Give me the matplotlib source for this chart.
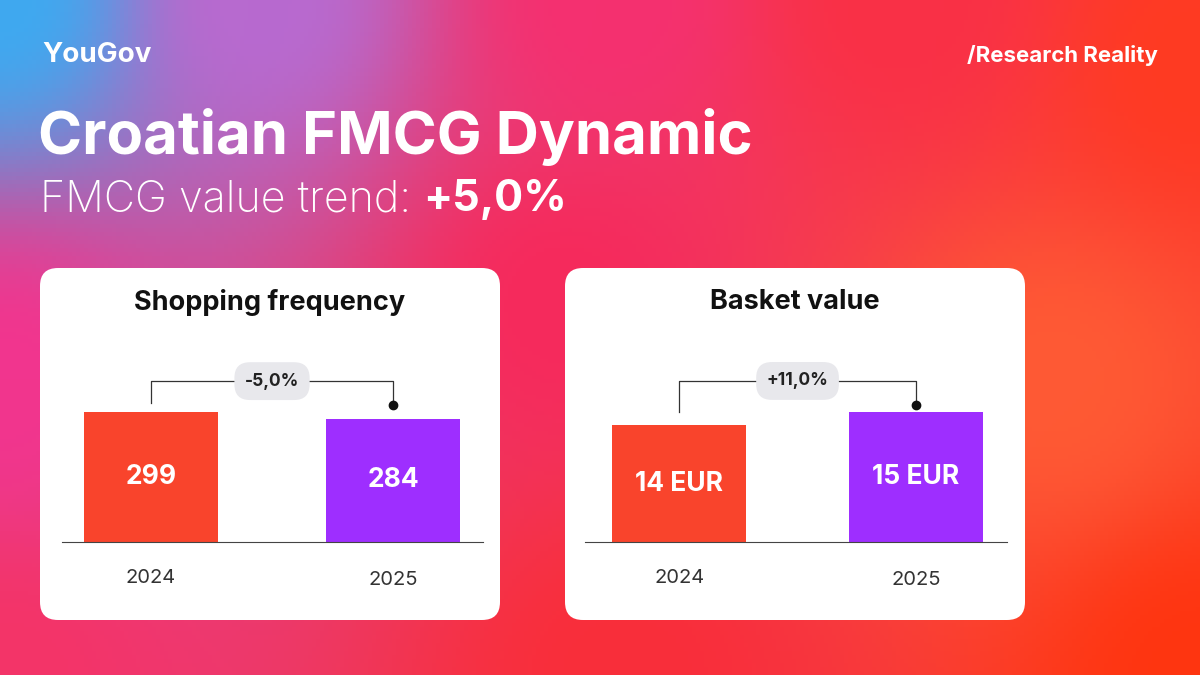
import numpy as np
import matplotlib
matplotlib.use("Agg")
import matplotlib.pyplot as plt
from matplotlib.patches import FancyBboxPatch

plt.rcParams['font.family'] = ['Inter', 'DejaVu Sans']

# ---- data ----
years = ["2024", "2025"]
freq_values = [299, 284]
freq_labels = ["299", "284"]
freq_change = "-5,0%"
basket_values = [13.5, 15.0]
basket_labels = ["14 EUR", "15 EUR"]
basket_change = "+11,0%"
bar_colors = ["#F9442C", "#9E2EFF"]

W, H = 1200, 675
fig = plt.figure(figsize=(12, 6.75), dpi=100)

# ---- background gradient ----
anchors = [((0, 0), "#3FA9F0"), ((260, 0), "#B86AD0"), ((0, 380), "#F2358E"),
           ((0, 675), "#F43468"), ((560, 300), "#F62A5C"), ((1200, 60), "#FF3A22"),
           ((1200, 675), "#FF3510"), ((620, 675), "#F92E3A"), ((1050, 380), "#FF5A34"),
           ((600, 0), "#F53070"), ((900, 0), "#FA3046")]
yy, xx = np.mgrid[0:H:4, 0:W:4]
acc = np.zeros(xx.shape + (3,)); wsum = np.zeros(xx.shape)
for (ax_, ay_), c in anchors:
    rgb = np.array(matplotlib.colors.to_rgb(c))
    d2 = (xx - ax_) ** 2 + (yy - ay_) ** 2 + 1.0
    w = 1.0 / d2 ** 1.3
    acc += w[..., None] * rgb; wsum += w
img = acc / wsum[..., None]
bg = fig.add_axes([0, 0, 1, 1]); bg.imshow(img, aspect='auto', extent=[0, W, H, 0])
bg.set_xlim(0, W); bg.set_ylim(H, 0); bg.axis('off')

# cards
for x0 in (40, 565):
    bg.add_patch(FancyBboxPatch((x0 + 18, 268 + 18), 460 - 36, 352 - 36,
                                boxstyle="round,pad=18", fc="white", ec="none"))

# header text
bg.text(42, 55, "YouGov", color="white", fontsize=20, fontweight="bold", va="center")
bg.text(1158, 55, "/Research Reality", color="white", fontsize=16, fontweight="bold",
        va="center", ha="right")
bg.text(38, 137, "Croatian FMCG Dynamic", color="white", fontsize=43, fontweight="bold",
        va="center")
t = bg.text(40, 200, "FMCG value trend: ", color="white", fontsize=31, fontweight="light",
            va="center")
fig.canvas.draw()
bb = t.get_window_extent()
bg.text(40 + bb.width, 200, "+5,0%", color="white", fontsize=31, fontweight="bold",
        va="center")

bg.text(270, 302, "Shopping frequency", color="#111111", fontsize=19.5, fontweight="bold",
        ha="center", va="center")
bg.text(795, 302, "Basket value", color="#111111", fontsize=19.5, fontweight="bold",
        ha="center", va="center")


def panel(px0, px1, left, right, width, ytop, values, labels, change, yline, ystart, yend):
    a = fig.add_axes([px0 / W, 1 - 542 / H, (px1 - px0) / W, 200 / H])
    a.set_xlim(left, right); a.set_ylim(0, ytop)
    a.patch.set_alpha(0)
    for s in ("top", "right", "left"):
        a.spines[s].set_visible(False)
    a.spines["bottom"].set_color("#444444"); a.spines["bottom"].set_linewidth(0.8)
    a.set_yticks([]); a.set_xticks([])
    x = np.arange(len(values))
    a.bar(x, values, width=width, color=bar_colors)
    for xi, v, lb in zip(x, values, labels):
        a.text(xi, v / 2, lb, ha="center", va="center", color="white", fontsize=19,
               fontweight="bold")
    for xi, yr, off in zip(x, years, (-0.18, -0.19)):
        a.text(xi, ytop * off, yr, ha="center", va="center", color="#333333", fontsize=14.5,
               clip_on=False)
    a.plot([0, 0, 1, 1], [ystart, yline, yline, yend], color="#333333", lw=0.9,
           clip_on=False, zorder=2)
    a.plot([1], [yend], "o", color="#111111", ms=6, clip_on=False)
    a.text(0.5, yline, change, ha="center", va="center", fontsize=12.5, fontweight="bold",
           color="#222222", zorder=3,
           bbox=dict(boxstyle="round,pad=0.6,rounding_size=0.9", fc="#E8E8EC", ec="none"))


panel(62, 483, -0.368, 1.372, 0.554, 460, freq_values, freq_labels, freq_change,
      370, 320, 315)
panel(585, 1007, -0.397, 1.384, 0.565, 23.1, basket_values, basket_labels, basket_change,
      18.6, 15.0, 15.8)

fig.savefig("out.png", dpi=100)
